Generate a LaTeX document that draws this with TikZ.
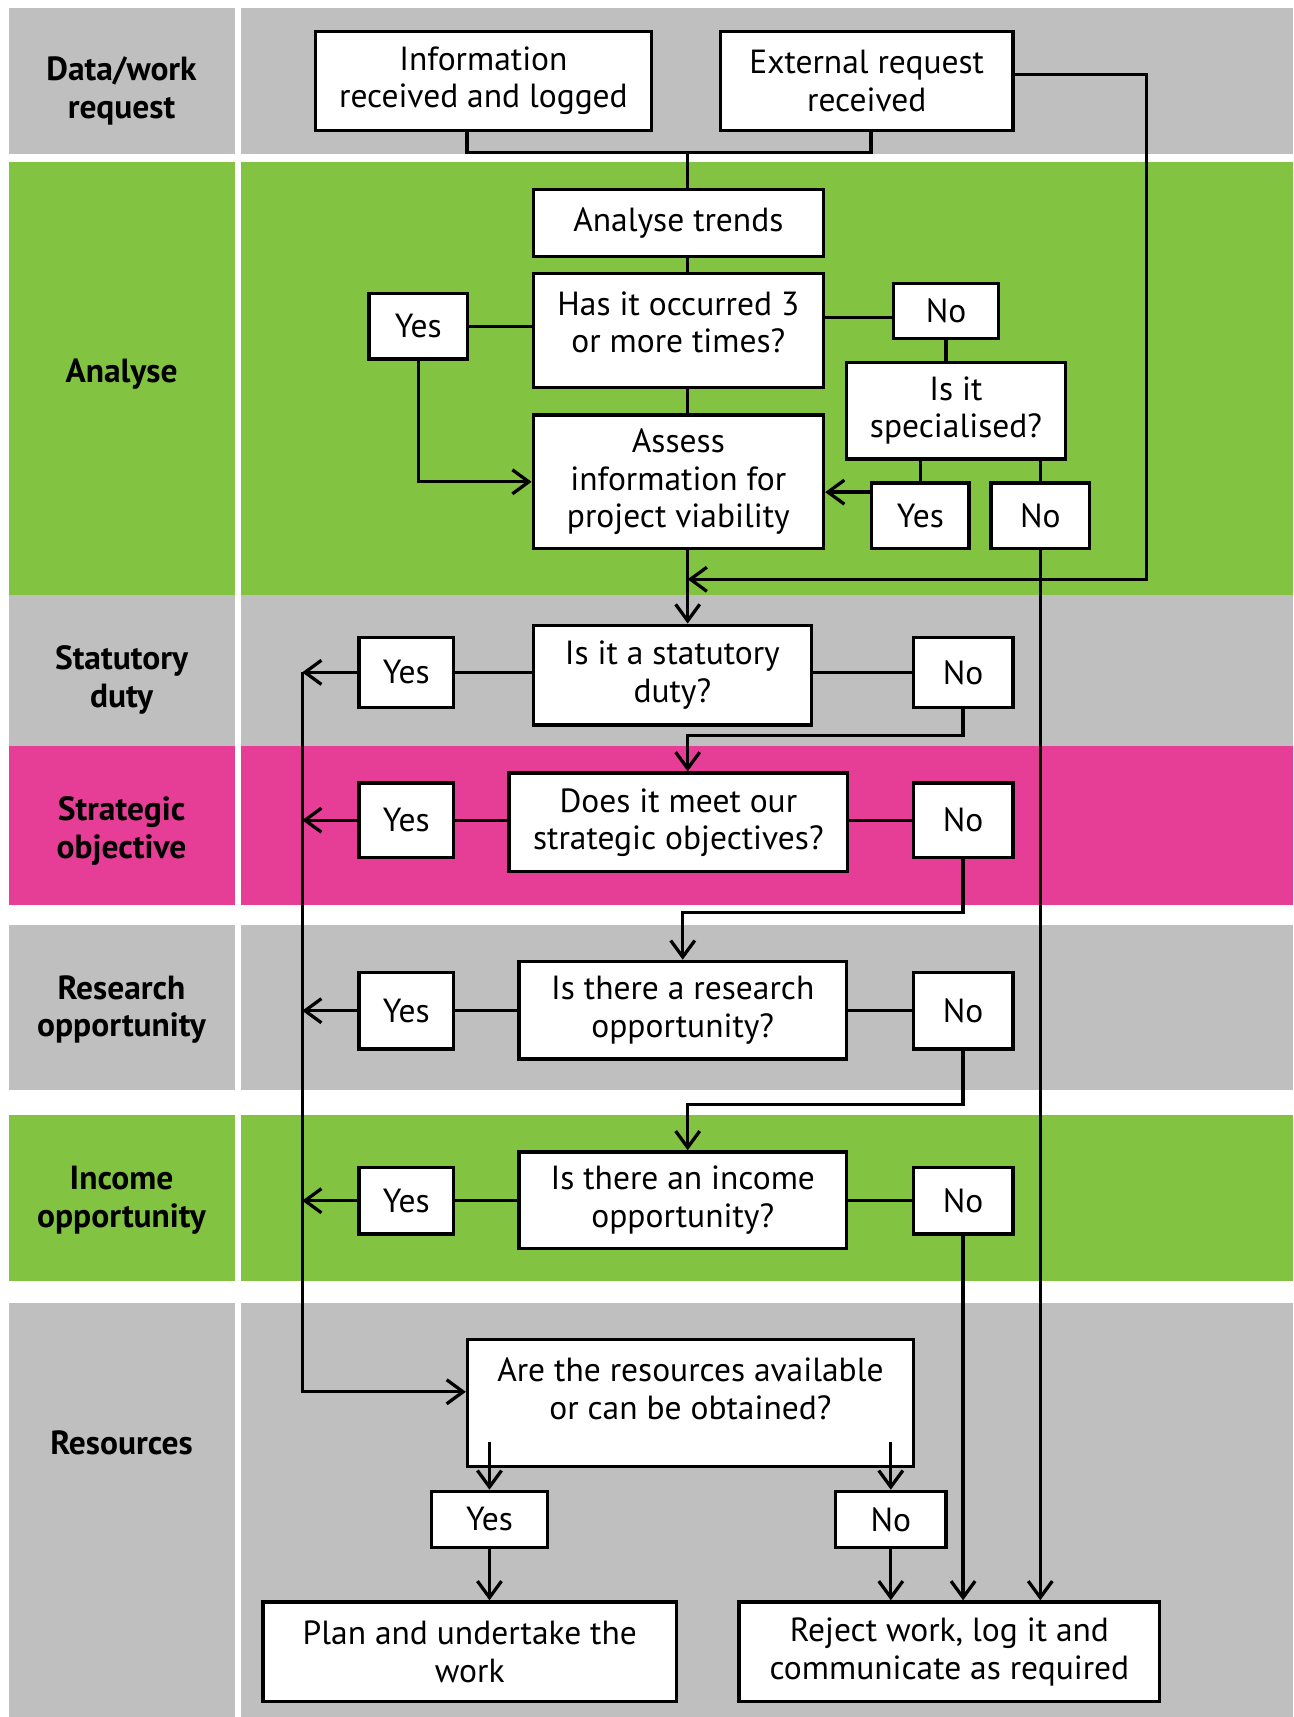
\documentclass[tikz,border=0pt]{standalone}
\usepackage{fontspec}
\setmainfont{PT Sans}
\usetikzlibrary{arrows.meta,calc}
\definecolor{lanegrey}{HTML}{BFBFBF}
\definecolor{lanegreen}{HTML}{82C341}
\definecolor{lanepink}{HTML}{E63E96}

\tikzset{
 boxsize/.style 2 args={minimum width=#1*0.02cm, minimum height=#2*0.02cm},
 box/.style={draw, fill=white, line width=1.8pt, align=center, inner sep=2pt, font=\fontsize{17.4}{19.4}\selectfont},
 lane/.style={align=center, font=\fontsize{17.4}{19.4}\selectfont\bfseries},
 link/.style={line width=1.7pt},
 arr/.style={link, -{Straight Barb[length=3mm,width=4.4mm]}}
}

\begin{document}
\begin{tikzpicture}[x=0.02cm, y=-0.02cm]
 \useasboundingbox (0,0) rectangle (1181,1568);
 \fill[white] (0,0) rectangle (1181,1568);

 \foreach \ya/\yb/\col in {7/141/lanegrey, 148/543/lanegreen, 543/681/lanegrey, 681/826/lanepink, 845/995/lanegrey, 1018/1170/lanegreen, 1190/1568/lanegrey} {
  \fill[\col] (8,\ya) rectangle (215,\yb);
  \fill[\col] (220,\ya) rectangle (1181,\yb);
 }

 \node[lane] (lrequest) at (111,83) {Data/work\\request};
 \node[lane] (lanalyse) at (111,342) {Analyse};
 \node[lane] (lstatutory) at (111,621) {Statutory\\duty};
 \node[lane] (lstrategic) at (111,759) {Strategic\\objective};
 \node[lane] (lresearch) at (111,922) {Research\\opportunity};
 \node[lane] (lincome) at (111,1096) {Income\\opportunity};
 \node[lane] (lresources) at (111,1318) {Resources};

 \coordinate (trunk) at (628,0);
 \coordinate (spine) at (276,0);
 \coordinate (extturn) at (1047,529);

 \node[box, boxsize={307}{90}] (info) at (441.5,74) {Information\\received and logged};
 \node[box, boxsize={267}{90}] (ext) at (791.5,74) {External request\\received};
 \node[box, boxsize={265}{61}] (trends) at (619.5,203.5) {Analyse trends};
 \node[box, boxsize={265}{104}] (occ) at (619.5,302) {Has it occurred 3\\or more times?\\[-0.36cm]};
 \node[box, boxsize={90}{60}] (yes1) at (382,298) {Yes};
 \node[box, boxsize={96}{50}] (no1) at (864,284) {No};
 \node[box, boxsize={200}{88}] (spec) at (873,375) {Is it\\specialised?};
 \node[box, boxsize={265}{122}] (assess) at (619.5,440) {Assess\\information for\\project viability};
 \node[box, boxsize={89}{60}] (yes2) at (840.5,471) {Yes};
 \node[box, boxsize={90}{60}] (no2) at (950,471) {No};

 \node[box, boxsize={254}{91}] (stat) at (614,616.5) {Is it a statutory\\duty?};
 \node[box, boxsize={86}{64}] (yesS) at (371,614) {Yes};
 \node[box, boxsize={91}{64}] (noS) at (879.5,614) {No};
 \node[box, boxsize={309}{90}] (strat) at (619.5,751) {Does it meet our\\strategic objectives?};
 \node[box, boxsize={86}{68}] (yesO) at (371,749) {Yes};
 \node[box, boxsize={91}{68}] (noO) at (879.5,749) {No};
 \node[box, boxsize={299}{89}] (resq) at (623.5,922.5) {Is there a research\\opportunity?};
 \node[box, boxsize={86}{70}] (yesR) at (371,923) {Yes};
 \node[box, boxsize={91}{70}] (noR) at (879.5,923) {No};
 \node[box, boxsize={299}{88}] (inc) at (623.5,1096) {Is there an income\\opportunity?};
 \node[box, boxsize={86}{61}] (yesI) at (371,1096.5) {Yes};
 \node[box, boxsize={91}{61}] (noI) at (879.5,1096.5) {No};

 \node[box, boxsize={407}{116}] (resrc) at (630.5,1281) {Are the resources available\\or can be obtained?\\[-0.16cm]};
 \node[box, boxsize={106}{51}] (yesF) at (447,1387.5) {Yes};
 \node[box, boxsize={101}{51}] (noF) at (813.5,1387.5) {No};
 \node[box, boxsize={378}{91}] (plan) at (429,1508.5) {Plan and undertake the\\work};
 \node[box, boxsize={384}{91}] (reject) at (867,1508.5) {Reject work, log it and\\communicate as required};

 \draw[link] ($(info.south)+(-15,0)$) -- ++(0,19) -| ($(ext.south)+(4,0)$);
 \draw[link] (trunk |- 0,138) -- (trends.north -| trunk);
 \draw[link] (trends.south -| trunk) -- (occ.north -| trunk);
 \draw[link] (occ.south -| trunk) -- (assess.north -| trunk);
 \draw[link] (yes1.east) -- (yes1.east -| occ.west);
 \draw[arr] (yes1.south) |- (assess.west);
 \draw[link] ($(no1.west)+(0,6)$) coordinate (n1a) -- (n1a -| occ.east);
 \draw[link] (no1.south) -- (spec.north -| no1.south);
 \draw[link] (yes2.north) -- (yes2.north |- spec.south);
 \draw[link] (no2.north) -- (no2.north |- spec.south);
 \draw[arr] ($(yes2.north west)+(0,10)$) coordinate (y2a) -- (y2a -| assess.east);
 \draw[arr] ($(ext.east)+(0,-6)$) -| (extturn) -- (extturn -| trunk);
 \draw[arr] (assess.south -| trunk) -- (stat.north -| trunk);
 \draw[arr] (no2.south) -- (no2.south |- reject.north);

 \draw[link] (yesS.east) -- (yesS.east -| stat.west);
 \draw[link] (noS.west) -- (noS.west -| stat.east);
 \draw[link] (yesO.east) -- (yesO.east -| strat.west);
 \draw[link] (noO.west) -- (noO.west -| strat.east);
 \draw[link] (yesR.east) -- (yesR.east -| resq.west);
 \draw[link] (noR.west) -- (noR.west -| resq.east);
 \draw[link] (yesI.east) -- (yesI.east -| inc.west);
 \draw[link] (noI.west) -- (noI.west -| inc.east);

 \draw[arr] (noS.south) -- ++(0,24) -| (strat.north -| trunk);
 \draw[arr] (noO.south) -- ++(0,49) -| (resq.north);
 \draw[arr] (noR.south) -- ++(0,49) -| (inc.north -| trunk);
 \draw[arr] (noI.south) -- (noI.south |- reject.north);

 \draw[arr] (yesS.west) -- (yesS.west -| spine);
 \draw[arr] (yesO.west) -- (yesO.west -| spine);
 \draw[arr] (yesR.west) -- (yesR.west -| spine);
 \draw[arr] (yesI.west) -- (yesI.west -| spine);
 \draw[arr] (yesS.west -| spine) |- ($(resrc.west)+(0,-10)$);

 \draw[arr] ($(yesF.north)+(0,-44)$) -- (yesF.north);
 \draw[arr] ($(noF.north)+(0,-44)$) -- (noF.north);
 \draw[arr] (yesF.south) -- (yesF.south |- plan.north);
 \draw[arr] (noF.south) -- (noF.south |- reject.north);
\end{tikzpicture}
\end{document}
